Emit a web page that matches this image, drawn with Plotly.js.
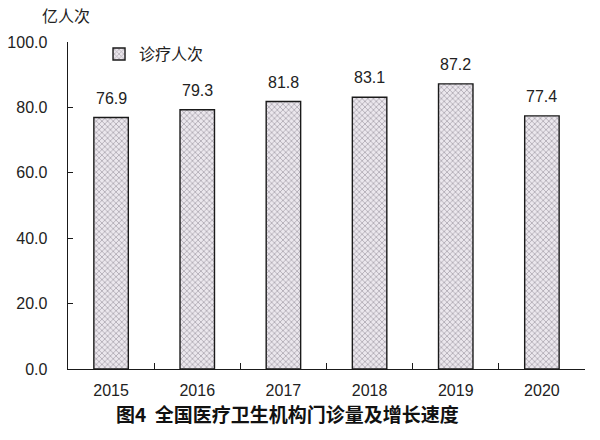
<!DOCTYPE html>
<html><head><meta charset="utf-8">
<script src="https://cdn.plot.ly/plotly-3.0.1.min.js"></script>
<style>body{margin:0;background:#fff}#c{width:600px;height:440px}</style>
</head><body><div id="c"></div>
<script>
const years = ['2015','2016','2017','2018','2019','2020'];
const visits = [76.9, 79.3, 81.8, 83.1, 87.2, 77.4];
const seriesName = '诊疗人次';
const yTicks = [0, 20, 40, 60, 80, 100];

const fontFam = 'Liberation Sans, Arial, Noto Sans CJK SC, sans-serif';
const cjk = 'Noto Sans CJK SC, sans-serif';
const trace = {
  type: 'bar', x: years, y: visits, name: seriesName,
  width: 0.4,
  marker: {color: '#dcd7de', line: {color: '#1a1a1a', width: 1.4},
    pattern: {shape: 'x', fgcolor: '#aaa4ad', bgcolor: '#ebe7ed', size: 4, solidity: 0.35}},
  showlegend: true
};
// label annotations positioned by category index on the category axis
const labelAnns = years.map((yr, i) => ({
  x: i, y: visits[i], xref: 'x', yref: 'y', text: visits[i].toFixed(1),
  showarrow: false, yanchor: 'bottom', yshift: 9,
  font: {family: fontFam, size: 16, color: '#222'}
}));
const layout = {
  width: 600, height: 440,
  margin: {l: 68, r: 15, t: 42, b: 71},
  paper_bgcolor: '#fff', plot_bgcolor: '#fff',
  font: {family: fontFam, size: 16, color: '#222'},
  xaxis: {type: 'category', range: [-0.5, years.length - 0.5], autorange: false,
    showline: true, linecolor: '#1a1a1a', linewidth: 1.4,
    ticks: 'inside', tickson: 'boundaries', ticklen: 6, tickcolor: '#1a1a1a', tickwidth: 1.3,
    showgrid: false, tickfont: {size: 16}, ticklabelstandoff: 6, fixedrange: true},
  yaxis: {range: [0, 100], autorange: false, tickvals: yTicks, ticktext: yTicks.map(v => v.toFixed(1)),
    showline: true, linecolor: '#1a1a1a', linewidth: 1.4, ticks: 'inside', ticklen: 5,
    tickcolor: '#1a1a1a', tickwidth: 1.2, showgrid: false, zeroline: false,
    tickfont: {size: 16}, ticklabelstandoff: 16},
  legend: {x: 0.06, y: 1.015, xanchor: 'left', yanchor: 'top', bgcolor: 'rgba(0,0,0,0)',
    font: {size: 16, family: cjk}, itemwidth: 30},
  annotations: labelAnns.concat([
    {text: '亿人次', xref: 'paper', yref: 'paper', x: -0.004, y: 1.0, yshift: 27,
      xanchor: 'center', yanchor: 'middle', showarrow: false,
      font: {size: 16, family: cjk, color: '#222'}},
    {text: '<b>图4  全国医疗卫生机构门诊量及增长速度</b>', xref: 'paper', yref: 'paper',
      x: 0.424, y: 0, yshift: -44, xanchor: 'center', yanchor: 'middle', showarrow: false,
      font: {size: 19, family: cjk, color: '#111'}}
  ])
};
Plotly.newPlot('c', [trace], layout, {displayModeBar: false, staticPlot: true});
</script></body></html>
